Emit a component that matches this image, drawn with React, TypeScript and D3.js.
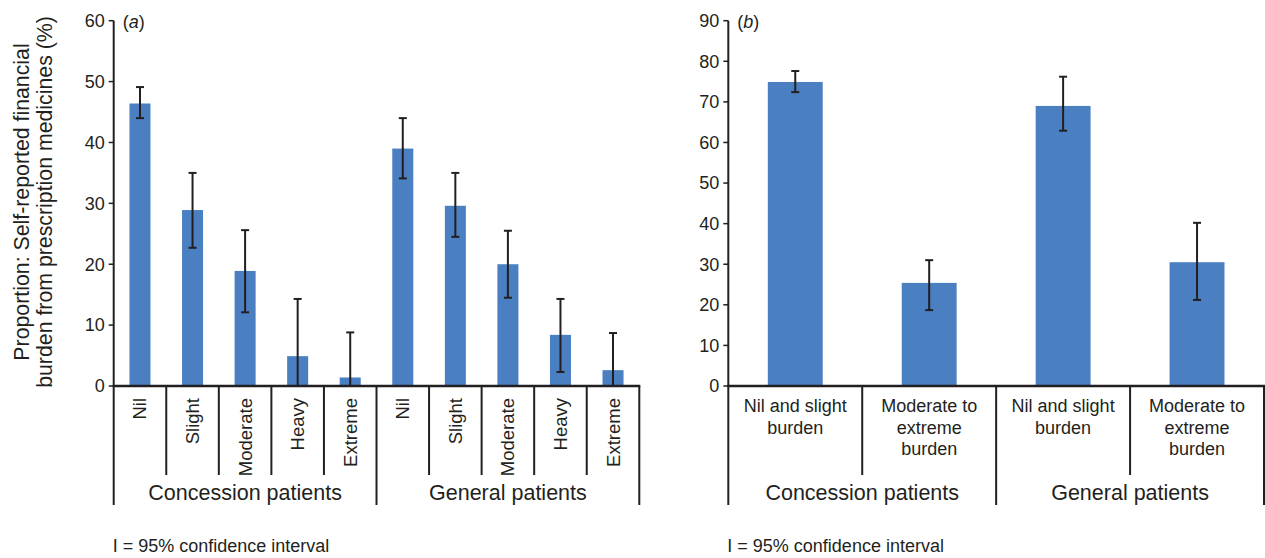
import React from "react";
import * as d3 from "d3";

// groups shared by both panels
const groups = ["Concession patients", "General patients"];

// panel (a): burden level
const levelsA = ["Nil", "Slight", "Moderate", "Heavy", "Extreme"];
const concessionA = [46.4, 28.9, 18.9, 4.9, 1.4];
const concessionALow = [44.0, 22.7, 12.1, 0, 0];
const concessionAHigh = [49.1, 35.0, 25.6, 14.3, 8.8];
const generalA = [39.0, 29.6, 20.0, 8.4, 2.6];
const generalALow = [34.1, 24.5, 14.5, 2.3, 0];
const generalAHigh = [44.0, 35.0, 25.5, 14.3, 8.7];
const ticksA = [0, 10, 20, 30, 40, 50, 60];

// panel (b): collapsed burden
const levelsB = [["Nil and slight", "burden"], ["Moderate to", "extreme", "burden"]];
const concessionB = [74.9, 25.4];
const concessionBLow = [72.4, 18.7];
const concessionBHigh = [77.6, 31.0];
const generalB = [69.0, 30.5];
const generalBLow = [62.9, 21.2];
const generalBHigh = [76.2, 40.2];
const ticksB = [0, 10, 20, 30, 40, 50, 60, 70, 80, 90];

const INK = "#231f20";
const BLUE = "#4a7fc1";
const FONT = "'Liberation Sans', Arial, Helvetica, sans-serif";

type Row = { key: string; label: string[]; v: number; lo: number; hi: number };

function buildRows(labels: string[][], series: number[][][]): Row[] {
  const rows: Row[] = [];
  series.forEach(([vals, lows, highs], g) => {
    labels.forEach((lab, i) => {
      rows.push({ key: `${g}-${i}`, label: lab, v: vals[i], lo: lows[i], hi: highs[i] });
    });
  });
  return rows;
}

const Panel = ({ rows, ticks, x0, x1, pad, rotate, tag }: {
  rows: Row[]; ticks: number[]; x0: number; x1: number; pad: number; rotate: boolean; tag: string;
}) => {
  const top = 20.7, base = 386, shortEnd = 475, longEnd = 505;
  const y = d3.scaleLinear().domain([0, d3.max(ticks)!]).range([base, top]);
  const x = d3.scaleBand().domain(rows.map((r) => r.key)).range([x0, x1])
    .paddingInner(pad).paddingOuter(pad / 2);
  const step = x.step();
  const per = rows.length / groups.length;
  const edge = (i: number) => x0 + i * step;

  return (
    <g fontFamily={FONT} fill={INK}>
      {rows.map((r) => (
        <rect key={r.key} x={x(r.key)} y={y(r.v)} width={x.bandwidth()} height={base - y(r.v)} fill={BLUE} />
      ))}
      {rows.map((r) => {
        const cx = x(r.key)! + x.bandwidth() / 2;
        return (
          <g key={"e" + r.key} stroke={INK} strokeWidth={2}>
            <line x1={cx} x2={cx} y1={y(r.hi)} y2={y(r.lo)} />
            <line x1={cx - 4} x2={cx + 4} y1={y(r.hi)} y2={y(r.hi)} />
            <line x1={cx - 4} x2={cx + 4} y1={y(r.lo)} y2={y(r.lo)} />
          </g>
        );
      })}
      {/* y axis */}
      <line x1={x0} x2={x0} y1={top} y2={longEnd} stroke={INK} strokeWidth={2} />
      {ticks.map((t) => (
        <g key={t}>
          <line x1={x0 - 5} x2={x0} y1={y(t)} y2={y(t)} stroke={INK} strokeWidth={1.5} />
          <text x={x0 - 9} y={y(t)} dy="0.35em" textAnchor="end" fontSize={18}>{t}</text>
        </g>
      ))}
      {/* x axis */}
      <line x1={x0 - 1} x2={x1 + 1} y1={base} y2={base} stroke={INK} strokeWidth={2.5} />
      {d3.range(1, rows.length + 1).map((i) => (
        <line key={"s" + i} x1={edge(i)} x2={edge(i)} y1={base} y2={i % per === 0 ? longEnd : shortEnd}
          stroke={INK} strokeWidth={2} />
      ))}
      {rows.map((r) => {
        const cx = x(r.key)! + x.bandwidth() / 2;
        return rotate ? (
          <text key={"l" + r.key} transform={`translate(${cx},398) rotate(-90)`} dy="0.35em"
            textAnchor="end" fontSize={18.5}>{r.label[0]}</text>
        ) : (
          <text key={"l" + r.key} x={cx} y={412} textAnchor="middle" fontSize={18}>
            {r.label.map((s, k) => (
              <tspan key={k} x={cx} dy={k === 0 ? 0 : 21.5}>{s}</tspan>
            ))}
          </text>
        );
      })}
      {groups.map((g, i) => (
        <text key={g} x={(edge(i * per) + edge((i + 1) * per)) / 2} y={500} textAnchor="middle" fontSize={21.5}>{g}</text>
      ))}
      <text x={x0 + 9} y={28} fontSize={18}>
        (<tspan fontStyle="italic">{tag}</tspan>)
      </text>
      <text x={x0 - 1} y={552} fontSize={18}>I = 95% confidence interval</text>
    </g>
  );
};

export default function App() {
  const rowsA = buildRows(levelsA.map((l) => [l]), [
    [concessionA, concessionALow, concessionAHigh],
    [generalA, generalALow, generalAHigh],
  ]);
  const rowsB = buildRows(levelsB, [
    [concessionB, concessionBLow, concessionBHigh],
    [generalB, generalBLow, generalBHigh],
  ]);
  return (
    <svg width={1265} height={558} style={{ position: "absolute", left: 0, top: 0, background: "#fff" }}>
      <rect width={1265} height={558} fill="#fff" />
      <Panel rows={rowsA} ticks={ticksA} x0={113.7} x1={639.3} pad={0.6} rotate tag="a" />
      <Panel rows={rowsB} ticks={ticksB} x0={728.3} x1={1264} pad={0.59} rotate={false} tag="b" />
      <g fontFamily={FONT} fill={INK} fontSize={21.3} textAnchor="middle">
        <text transform="translate(22,202) rotate(-90)" dy="0.35em">Proportion: Self-reported financial</text>
        <text transform="translate(45,202) rotate(-90)" dy="0.35em">burden from prescription medicines (%)</text>
      </g>
    </svg>
  );
}
